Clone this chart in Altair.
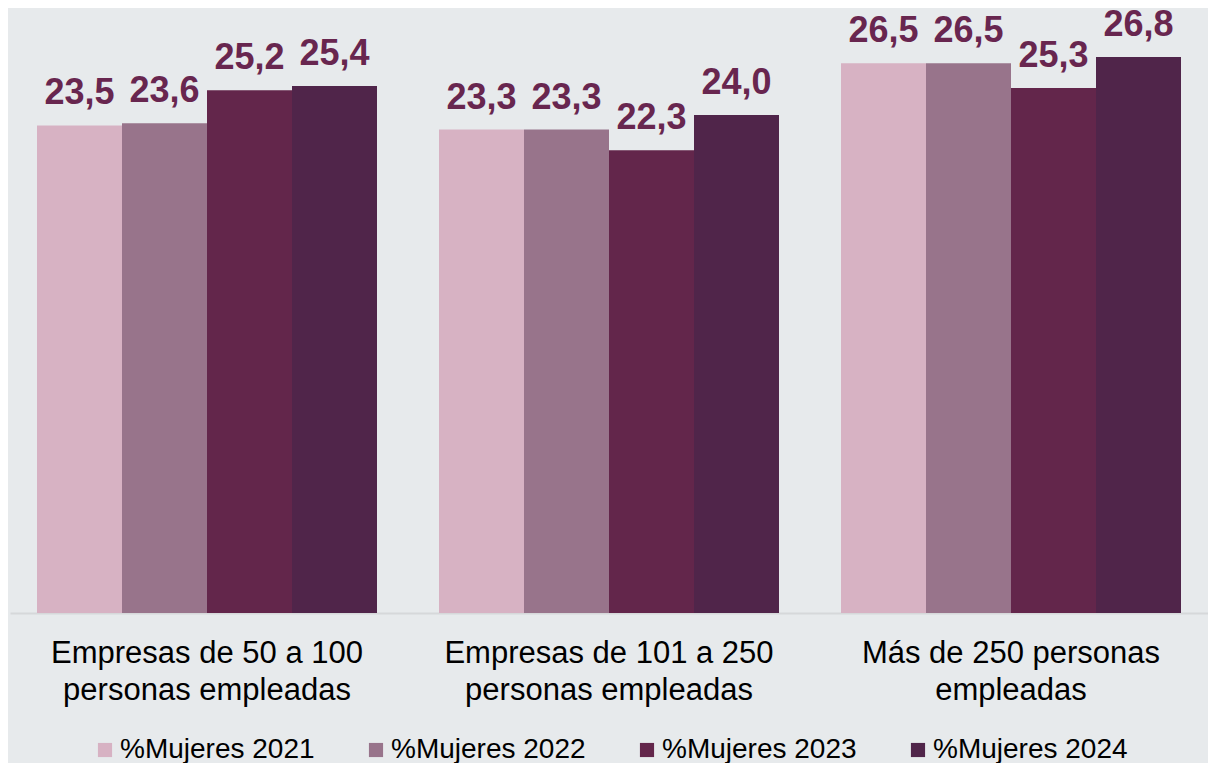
import altair as alt
import pandas as pd

categories = [
    "Empresas de 50 a 100\npersonas empleadas",
    "Empresas de 101 a 250\npersonas empleadas",
    "Más de 250 personas\nempleadas",
]
series = ["%Mujeres 2021", "%Mujeres 2022", "%Mujeres 2023", "%Mujeres 2024"]
values_2021 = [23.5, 23.3, 26.5]
values_2022 = [23.6, 23.3, 26.5]
values_2023 = [25.2, 22.3, 25.3]
values_2024 = [25.4, 24.0, 26.8]
colors = ["#d7b2c3", "#98748b", "#63264b", "#50254a"]

rows = []
for s, vals in zip(series, [values_2021, values_2022, values_2023, values_2024]):
    for c, v in zip(categories, vals):
        rows.append({"cat": c, "serie": s, "valor": v,
                     "etiqueta": f"{v:.1f}".replace(".", ",")})
df = pd.DataFrame(rows)

FONT = "Liberation Sans"

x = alt.X("cat:N", sort=categories, title=None,
          scale=alt.Scale(paddingInner=0.0199, paddingOuter=0),
          axis=alt.Axis(labelExpr="split(datum.label, '\\n')", labelAngle=0,
                        labelFontSize=31, labelColor="#000000", labelFont=FONT,
                        labelLineHeight=37, labelPadding=25, ticks=False,
                        labelLimit=0,
                        domainColor="#d6d8da", domainWidth=2, grid=False))
y = alt.Y("valor:Q", scale=alt.Scale(domain=[0, 29.16], nice=False, zero=True),
          axis=None)
xoff = alt.XOffset("serie:N", sort=series,
                   scale=alt.Scale(paddingInner=0, paddingOuter=0.3176))

bars = alt.Chart(df).mark_bar().encode(
    x=x, y=y, xOffset=xoff,
    color=alt.Color("serie:N", sort=series,
                    scale=alt.Scale(domain=series, range=colors),
                    legend=alt.Legend(title=None, orient="none", direction="horizontal",
                                      legendX=81, legendY=728, columns=4,
                                      columnPadding=47, symbolType="square",
                                      symbolSize=200, symbolStrokeWidth=0,
                                      labelFontSize=28, labelFont=FONT,
                                      labelColor="#000000", labelOffset=1,
                                      labelLimit=0, padding=0)),
)

labels = alt.Chart(df).mark_text(
    font=FONT, fontSize=36, fontWeight="bold", color="#68264f",
    baseline="alphabetic", dy=-21
).encode(x=x, y=y, xOffset=xoff, text="etiqueta:N")

chart = (bars + labels).properties(
    width=1198, height=605,
    background="#e7eaec",
    padding={"left": 2, "top": 0, "right": 0, "bottom": 150},
    autosize=alt.AutoSizeParams(type="none"),
).configure_view(stroke=None)

chart.save("out.html", embed_options={"renderer": "svg", "actions": False})
